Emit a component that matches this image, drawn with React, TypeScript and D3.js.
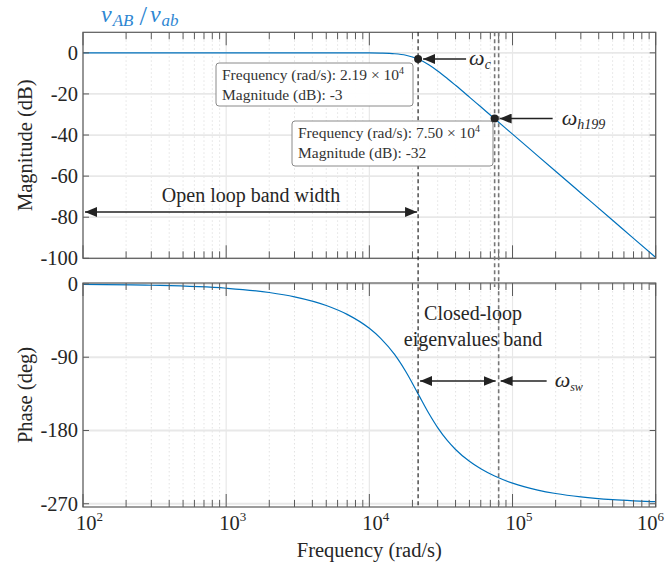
import React from 'react';
import * as d3 from 'd3';

// ---- data ----
const freq = [1e2, 3e2, 1e3, 2e3, 3e3, 5e3, 7e3, 1e4, 1.2e4, 1.5e4, 1.8e4, 2.19e4, 2.6e4, 3e4, 3.5e4, 4e4, 5e4, 6e4, 7.5e4, 1e5, 1.5e5, 2e5, 3e5, 5e5, 7e5, 1e6];
const magDb = [0, 0, 0, 0, 0, 0, -0.005, -0.04, -0.12, -0.43, -1.17, -3.01, -5.8, -8.81, -12.47, -15.81, -21.54, -26.27, -32.05, -39.57, -50.14, -57.64, -68.2, -81.5, -90.3, -99.57];
const phaseDeg = [-0.52, -1.57, -5.24, -10.48, -15.75, -26.4, -37.34, -54.5, -66.8, -86.6, -107.9, -135, -158.9, -176.5, -192.2, -203.3, -217.9, -227.1, -236.0, -244.7, -253.2, -257.4, -261.6, -265.0, -266.4, -267.5];

const magTicks = [0, -20, -40, -60, -80, -100];
const phaseTicks = [0, -90, -180, -270];
const decadeExps = [2, 3, 4, 5, 6];

const tipFreq = [2.19e4, 7.5e4];
const tipMag = [-3, -32];
const tipFreqText = ['2.19', '7.50'];
const tipMagText = ['-3', '-32'];

const wC = 2.19e4;
const wH199 = 7.5e4;
const wSw = 8e4;

const FONT = '"Liberation Serif", "Times New Roman", serif';
const BLUE = '#0072BD';

export default function App() {
  const L = 83, R = 655.7;
  const T1 = 32.3, B1 = 258.3;
  const T2 = 283, B2 = 507;

  const x = d3.scaleLog().domain([1e2, 1e6]).range([L, R]);
  const yM = d3.scaleLinear().domain([-100, 10]).range([B1, T1]);
  const yP = d3.scaleLinear().domain([-274, 1.2]).range([B2, T2]);

  const allTicks = x.ticks();
  const isMajor = (t: number) => Math.abs(Math.log10(t) - Math.round(Math.log10(t))) < 1e-9;
  const minor = allTicks.filter(t => !isMajor(t));
  const major = allTicks.filter(t => isMajor(t));

  const pts = freq.map((f, i) => ({ f, m: magDb[i], p: phaseDeg[i] }));
  const magLine = d3.line<any>().x(d => x(d.f)).y(d => yM(d.m)).curve(d3.curveMonotoneX)(pts) || '';
  const phLine = d3.line<any>().x(d => x(d.f)).y(d => yP(d.p)).curve(d3.curveMonotoneX)(pts) || '';

  const axisColor = '#5a5a5a';
  const gridColor = '#e8e8e8';

  const panel = (top: number, bottom: number, yScale: any, yTicks: number[], clipId: string, path: string) => (
    <g>
      <rect x={L} y={top} width={R - L} height={bottom - top} fill="#fff" />
      {minor.map((t, i) => (
        <line key={'mg' + i} x1={x(t)} x2={x(t)} y1={top} y2={bottom} stroke="#dcdcdc" strokeWidth={0.8} strokeDasharray="1.5,2.5" />
      ))}
      {major.map((t, i) => (
        <line key={'Mg' + i} x1={x(t)} x2={x(t)} y1={top} y2={bottom} stroke={gridColor} strokeWidth={1.2} />
      ))}
      {yTicks.map((t, i) => (
        <line key={'yg' + i} x1={L} x2={R} y1={yScale(t)} y2={yScale(t)} stroke={gridColor} strokeWidth={1.8} />
      ))}
      <clipPath id={clipId}>
        <rect x={L} y={top} width={R - L} height={bottom - top} />
      </clipPath>
      <path d={path} fill="none" stroke={BLUE} strokeWidth={1.2} clipPath={`url(#${clipId})`} />
      {minor.map((t, i) => (
        <g key={'mt' + i}>
          <line x1={x(t)} x2={x(t)} y1={top} y2={top + 7} stroke={axisColor} strokeWidth={1} />
          <line x1={x(t)} x2={x(t)} y1={bottom} y2={bottom - 7} stroke={axisColor} strokeWidth={1} />
        </g>
      ))}
      {major.map((t, i) => (
        <g key={'Mt' + i}>
          <line x1={x(t)} x2={x(t)} y1={top} y2={top + 13} stroke={axisColor} strokeWidth={1} />
          <line x1={x(t)} x2={x(t)} y1={bottom} y2={bottom - 13} stroke={axisColor} strokeWidth={1} />
        </g>
      ))}
      {yTicks.map((t, i) => (
        <g key={'yt' + i}>
          <line x1={L} x2={L + 6} y1={yScale(t)} y2={yScale(t)} stroke={axisColor} strokeWidth={1} />
          <line x1={R} x2={R - 6} y1={yScale(t)} y2={yScale(t)} stroke={axisColor} strokeWidth={1} />
          <text x={78} y={yScale(t) + 7} textAnchor="end" fontSize={20.5} fontFamily={FONT} fill="#262626">{t}</text>
        </g>
      ))}
      <rect x={L} y={top} width={R - L} height={bottom - top} fill="none" stroke={axisColor} strokeWidth={1.2} />
    </g>
  );

  const arrowColor = '#222';

  return (
    <svg width={666} height={567} style={{ position: 'absolute', left: 0, top: 0, background: '#fff' }}>
      <defs>
        <marker id="ah" viewBox="0 0 12 10" refX="12" refY="5" markerWidth="12" markerHeight="10" markerUnits="userSpaceOnUse" orient="auto-start-reverse">
          <path d="M0,0 L12,5 L0,10 Z" fill={arrowColor} />
        </marker>
      </defs>
      <rect x={0} y={0} width={666} height={567} fill="#fff" />

      {panel(T1, B1, yM, magTicks, 'clipM', magLine)}
      {panel(T2, B2, yP, phaseTicks, 'clipP', phLine)}

      {/* title */}
      <text x={101} y={22} fontFamily={FONT} fill="#2e86d2" fontStyle="italic">
        <tspan fontSize={24}>v</tspan>
        <tspan fontSize={17} dy={4} dx={1}>AB</tspan>
        <tspan fontSize={27} fontStyle="normal" dy={-1} dx={6}>/</tspan>
        <tspan fontSize={24} dy={-3} dx={3}>v</tspan>
        <tspan fontSize={17} dy={4} dx={1}>ab</tspan>
      </text>

      {/* axis labels */}
      <text transform={`translate(32,${(T1 + B1) / 2}) rotate(-90)`} textAnchor="middle" fontSize={20.5} fontFamily={FONT} fill="#262626">Magnitude (dB)</text>
      <text transform={`translate(32,${(T2 + B2) / 2}) rotate(-90)`} textAnchor="middle" fontSize={20.5} fontFamily={FONT} fill="#262626">Phase (deg)</text>
      <text x={(L + R) / 2} y={557} textAnchor="middle" fontSize={20.5} fontFamily={FONT} fill="#262626">Frequency (rad/s)</text>

      {decadeExps.map((e, i) => {
        const start = Math.min(x(Math.pow(10, e)) - 7, 637);
        return (
          <text key={'xl' + i} x={start} y={530} fontFamily={FONT} fill="#262626">
            <tspan fontSize={20.5}>10</tspan>
            <tspan fontSize={13} dy={-9}>{e}</tspan>
          </text>
        );
      })}

      {/* vertical dashed lines */}
      <line x1={x(wC)} x2={x(wC)} y1={T1} y2={B2} stroke="#111" strokeWidth={1.1} strokeDasharray="4,3" />
      <line x1={x(wH199)} x2={x(wH199)} y1={T1} y2={T2 + 4} stroke="#777" strokeWidth={1.6} strokeDasharray="4,3" />
      <line x1={x(wSw)} x2={x(wSw)} y1={T1} y2={B2} stroke="#777" strokeWidth={1.6} strokeDasharray="4,3" />

      {/* datatips */}
      {tipFreq.map((f, i) => {
        const bx = i === 0 ? 216 : 292;
        const by = i === 0 ? 63 : 121;
        const bw = i === 0 ? 197 : 201;
        const bh = i === 0 ? 43 : 45;
        return (
          <g key={'tip' + i}>
            <rect x={bx} y={by} width={bw} height={bh} rx={3} fill="#fff" fillOpacity={0.95} stroke="#8a8a8a" strokeWidth={1} />
            <text x={bx + 6} y={by + 17} fontSize={15.5} fontFamily={FONT} fill="#333">
              Frequency (rad/s): {tipFreqText[i]} × 10<tspan fontSize={10} dy={-6}>4</tspan>
            </text>
            <text x={bx + 6} y={by + 37} fontSize={15.5} fontFamily={FONT} fill="#333">Magnitude (dB): {tipMagText[i]}</text>
            <circle cx={x(f)} cy={yM(tipMag[i])} r={4} fill="#222" />
          </g>
        );
      })}

      {/* omega_c arrow */}
      <line x1={x(wC) + 48} x2={x(wC) + 5} y1={yM(tipMag[0])} y2={yM(tipMag[0])} stroke={arrowColor} strokeWidth={1.5} markerEnd="url(#ah)" />
      <text x={x(wC) + 51} y={yM(tipMag[0]) + 6} fontFamily={FONT} fill="#262626" fontStyle="italic">
        <tspan fontSize={22}>ω</tspan>
        <tspan fontSize={14} dy={4}>c</tspan>
      </text>

      {/* omega_h199 arrow */}
      <line x1={x(wH199) + 58} x2={x(wH199) + 5} y1={yM(tipMag[1])} y2={yM(tipMag[1])} stroke={arrowColor} strokeWidth={1.5} markerEnd="url(#ah)" />
      <text x={x(wH199) + 67} y={yM(tipMag[1]) + 6} fontFamily={FONT} fill="#262626" fontStyle="italic">
        <tspan fontSize={22}>ω</tspan>
        <tspan fontSize={14} dy={4}>h199</tspan>
      </text>

      {/* open loop band width */}
      <line x1={x(1e2) + 2} x2={x(wC) - 1} y1={212} y2={212} stroke={arrowColor} strokeWidth={1.5} markerStart="url(#ah)" markerEnd="url(#ah)" />
      <text x={251} y={202} textAnchor="middle" fontSize={20} fontFamily={FONT} fill="#262626">Open loop band width</text>

      {/* closed-loop band */}
      <text x={473} y={320} textAnchor="middle" fontSize={20} fontFamily={FONT} fill="#262626">Closed-loop</text>
      <text x={473} y={346} textAnchor="middle" fontSize={20} fontFamily={FONT} fill="#262626">eigenvalues band</text>
      <line x1={x(wC) + 2} x2={x(wSw) - 3} y1={381} y2={381} stroke={arrowColor} strokeWidth={1.5} markerStart="url(#ah)" markerEnd="url(#ah)" />
      <line x1={x(wSw) + 48} x2={x(wSw) + 2} y1={381} y2={381} stroke={arrowColor} strokeWidth={1.5} markerEnd="url(#ah)" />
      <text x={x(wSw) + 56} y={387} fontFamily={FONT} fill="#262626" fontStyle="italic">
        <tspan fontSize={22}>ω</tspan>
        <tspan fontSize={12} dy={4}>sw</tspan>
      </text>
    </svg>
  );
}
